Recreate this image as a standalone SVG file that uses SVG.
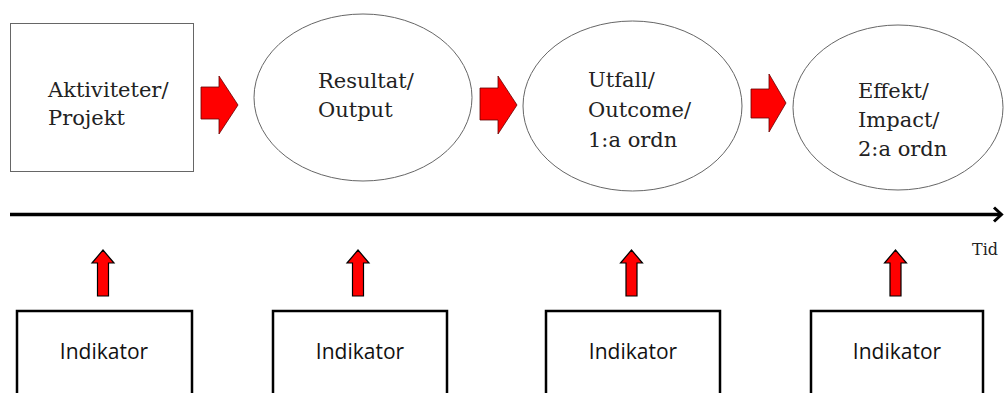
<svg xmlns="http://www.w3.org/2000/svg" width="1006" height="393" viewBox="0 0 1006 393">
<style>
.stage{fill:#fff;stroke:#666;stroke-width:1}
.serif{font-family:"DejaVu Serif","Liberation Serif",serif;font-size:21px;fill:#222}
.ind{fill:#fff;stroke:#000;stroke-width:2.5}
.indt{font-family:"Open Sans","Noto Sans",sans-serif;font-size:21px;fill:#111;text-anchor:middle}
.red{fill:#ff0000;stroke:#600;stroke-width:0.8}
.redup{fill:#ff0000;stroke:#000;stroke-width:1.2}
</style>
<g id="n-aktiviteter">
<rect class="stage" x="10.5" y="23.5" width="183" height="148"/>
<text class="serif" x="48" y="97">Aktiviteter/</text>
<text class="serif" x="48" y="125">Projekt</text>
</g>
<g id="n-resultat">
<ellipse class="stage" cx="363" cy="97.5" rx="109" ry="83.5"/>
<text class="serif" x="318" y="88">Resultat/</text>
<text class="serif" x="318" y="117">Output</text>
</g>
<g id="n-utfall">
<ellipse class="stage" cx="632.5" cy="106" rx="109.5" ry="85"/>
<text class="serif" x="588" y="87">Utfall/</text>
<text class="serif" x="588" y="117">Outcome/</text>
<text class="serif" x="588" y="147">1:a ordn</text>
</g>
<g id="n-effekt">
<ellipse class="stage" cx="898" cy="107.5" rx="105" ry="82.5"/>
<text class="serif" x="858" y="98">Effekt/</text>
<text class="serif" x="858" y="127">Impact/</text>
<text class="serif" x="858" y="156">2:a ordn</text>
</g>
<g id="n-ind1">
<rect class="ind" x="17" y="311" width="175" height="100"/>
<text class="indt" x="104" y="359">Indikator</text>
</g>
<g id="n-ind2">
<rect class="ind" x="273" y="311" width="174" height="100"/>
<text class="indt" x="360" y="359">Indikator</text>
</g>
<g id="n-ind3">
<rect class="ind" x="546" y="311" width="174" height="100"/>
<text class="indt" x="633" y="359">Indikator</text>
</g>
<g id="n-ind4">
<rect class="ind" x="811" y="311" width="172" height="100"/>
<text class="indt" x="897" y="359">Indikator</text>
</g>
<g id="n-tid">
<text x="972" y="255" style="font-family:'DejaVu Serif','Liberation Serif',serif;font-size:16px;fill:#222">Tid</text>
</g>
<g id="connectors">
<path class="red" d="M201,87 H219 V76 L238,105 L219,134 V119 H201 Z"/>
<path class="red" d="M480,88 H498 V76 L517,105 L498,134 V120 H480 Z"/>
<path class="red" d="M751,89 H769 V74 L786,103 L769,132 V118 H751 Z"/>
<path class="redup" d="M97.5,296 V263 H92 L103,250 L114,263 H108.5 V296 Z"/>
<path class="redup" d="M352.5,296 V263 H347 L358,250 L369,263 H363.5 V296 Z"/>
<path class="redup" d="M626,296 V263 H620.5 L631.5,250 L642.5,263 H637 V296 Z"/>
<path class="redup" d="M890,296 V263 H884.5 L895.5,250 L906.5,263 H901 V296 Z"/>
<line x1="10" y1="214.5" x2="1000" y2="214.5" stroke="#000" stroke-width="3.5"/>
<path d="M994,207.5 L1001.5,214.5 L994,221.5" fill="none" stroke="#000" stroke-width="3"/>
</g>
</svg>
